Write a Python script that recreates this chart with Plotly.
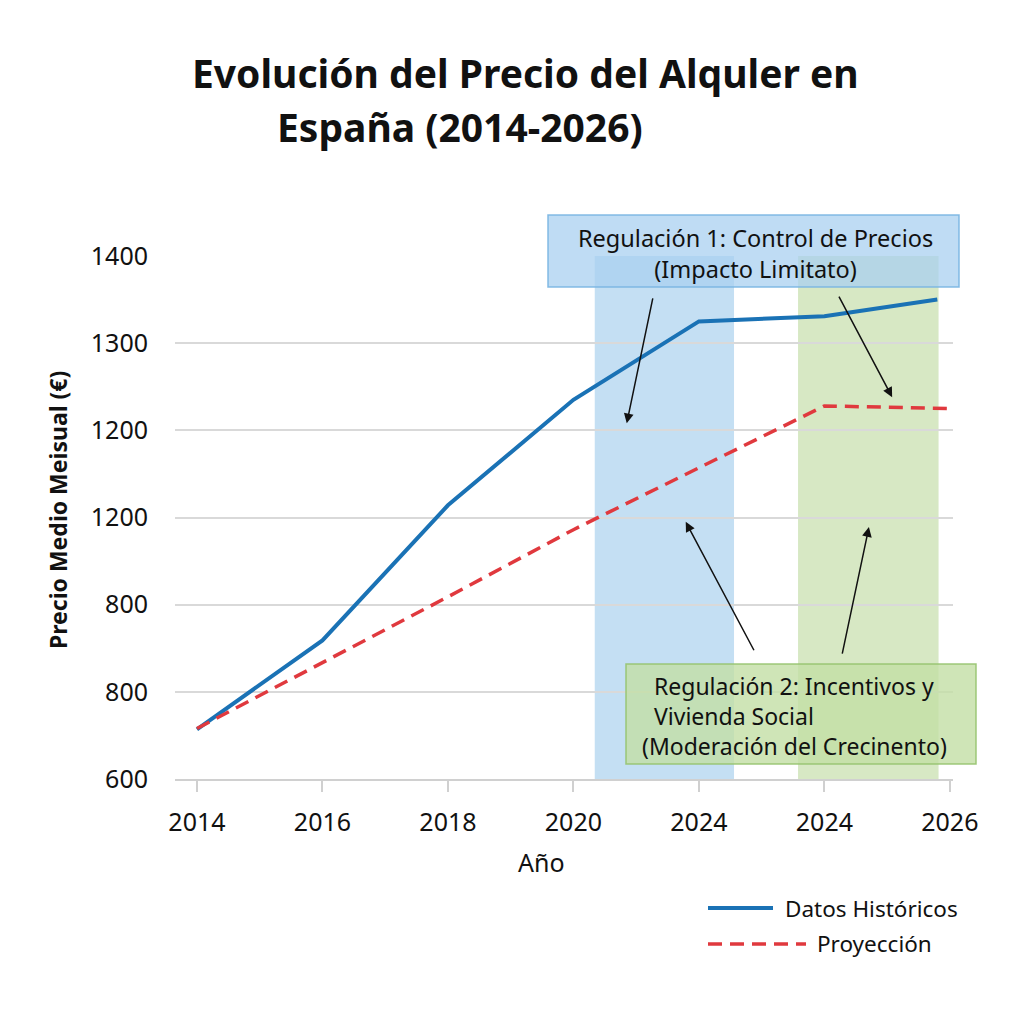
import plotly.graph_objects as go

# ---- data ----
years = [2014, 2016, 2018, 2020, 2022, 2024, 2025.8]
historico = [657, 759, 914, 1035, 1125, 1131, 1150]
proy_years = [2014, 2016, 2018, 2020, 2022, 2024, 2026]
proyeccion = [658, 733, 809, 886, 957, 1028, 1025]

x_tickvals = [2014, 2016, 2018, 2020, 2022, 2024, 2026]
x_ticktext = ["2014", "2016", "2018", "2020", "2024", "2024", "2026"]
y_tickvals = [600, 700, 800, 900, 1000, 1100, 1200]
y_ticktext = ["600", "800", "800", "1200", "1200", "1300", "1400"]

reg1_span = [2020.34, 2022.56]
reg2_span = [2023.58, 2025.82]

# ---- layout geometry (pixels) ----
W = H = 1024
L, R, T, B = 175, 953, 256, 779
def px(xp):
    return (xp - L) / (R - L)
def py(yp):
    return (B - yp) / (B - T)

FONT = "Noto Sans"
BLUE = "#1a72b5"
RED = "#e0393e"
DASH = "14px,8px"
NB = "\u00a0"

fig = go.Figure()
fig.add_trace(go.Scatter(x=years, y=historico, mode="lines", name="Datos Históricos",
                         line=dict(color=BLUE, width=4), showlegend=False))
fig.add_trace(go.Scatter(x=proy_years, y=proyeccion, mode="lines", name="Proyección",
                         line=dict(color=RED, width=3.5, dash=DASH), showlegend=False))

shapes = []
# shaded regulation periods
shapes.append(dict(type="rect", xref="x", yref="paper", x0=reg1_span[0], x1=reg1_span[1],
                   y0=0, y1=1, fillcolor="rgba(160,203,236,0.62)", line=dict(width=0), layer="below"))
shapes.append(dict(type="rect", xref="x", yref="paper", x0=reg2_span[0], x1=reg2_span[1],
                   y0=0, y1=1, fillcolor="rgba(190,218,160,0.62)", line=dict(width=0), layer="below"))
# annotation boxes
shapes.append(dict(type="rect", xref="paper", yref="paper", x0=px(548), x1=px(959),
                   y0=py(287), y1=py(215), fillcolor="rgba(170,208,240,0.75)",
                   line=dict(color="rgba(120,180,225,0.9)", width=1.5), layer="above"))
shapes.append(dict(type="rect", xref="paper", yref="paper", x0=px(626), x1=px(976),
                   y0=py(764), y1=py(664), fillcolor="rgba(195,222,165,0.8)",
                   line=dict(color="rgba(150,195,110,0.9)", width=1.5), layer="above"))
# manual legend lines
shapes.append(dict(type="line", xref="paper", yref="paper", x0=px(708), x1=px(773),
                   y0=py(908), y1=py(908), line=dict(color=BLUE, width=4)))
shapes.append(dict(type="line", xref="paper", yref="paper", x0=px(708), x1=px(806),
                   y0=py(944), y1=py(944), line=dict(color=RED, width=3.5, dash=DASH)))

ann = []
def txt(x, y, s, size=21, xanchor="center", bold=False, angle=0, align="center"):
    ann.append(dict(xref="paper", yref="paper", x=px(x), y=py(y), text=("<b>%s</b>" % s) if bold else s,
                    showarrow=False, xanchor=xanchor, yanchor="middle", textangle=angle, align=align,
                    font=dict(family=FONT, size=size, color="#111111")))

txt(525, 72, "Evolución del Precio del Alquler en", size=39, bold=True)
txt(275, 126, "España (2014-2026)", size=39, bold=True, xanchor="left")
txt(755, 253, "Regulación 1: Control de Precios<br>(Impacto Limitato)", size=23.5)
txt(640, 716, NB * 2 + "Regulación 2: Incentivos y<br>" + NB * 2 + "Vivienda Social<br>(Moderación del Crecinento)",
    size=23, xanchor="left", align="left")
txt(541, 862, "Año", size=25)
txt(58, 510, "Precio Medio Meisual (€)", size=23, bold=True, angle=-90)
txt(783, 908, "Datos Históricos", size=22.5, xanchor="left")
txt(815, 944, "Proyección", size=22.5, xanchor="left")

# arrows (data coordinates)
arrows = [
    ((2021.27, 1153), (2020.85, 1008)),
    ((2024.22, 1155), (2025.08, 1038)),
    ((2022.89, 746), (2021.79, 895)),
    ((2024.28, 742), (2024.71, 889)),
]
for (tx, ty), (hx, hy) in arrows:
    ann.append(dict(x=hx, y=hy, ax=tx, ay=ty, xref="x", yref="y", axref="x", ayref="y",
                    showarrow=True, arrowhead=2, arrowsize=1.3, arrowwidth=1.5,
                    arrowcolor="#111111", text=""))

fig.update_layout(
    width=W, height=H, autosize=False,
    margin=dict(l=L, r=W - R, t=T, b=H - B),
    paper_bgcolor="white", plot_bgcolor="white",
    shapes=shapes, annotations=ann, showlegend=False,
    font=dict(family=FONT, color="#111111"),
    xaxis=dict(range=[2013.65, 2026.05], tickvals=x_tickvals, ticktext=x_ticktext,
               showgrid=False, zeroline=False, showline=True, linecolor="#d0d0d0", linewidth=1.5,
               ticks="outside", ticklen=11, tickcolor="#d0d0d0", tickwidth=1.5,
               ticklabelstandoff=9, tickfont=dict(size=25, family=FONT, color="#111111")),
    yaxis=dict(range=[600, 1200], tickvals=y_tickvals, ticktext=y_ticktext,
               showgrid=True, gridcolor="#d9d9d9", gridwidth=1.5, zeroline=False,
               showline=False, ticks="", ticklabelstandoff=26,
               tickfont=dict(size=25, family=FONT, color="#111111")),
)

fig.write_html("out.html")
